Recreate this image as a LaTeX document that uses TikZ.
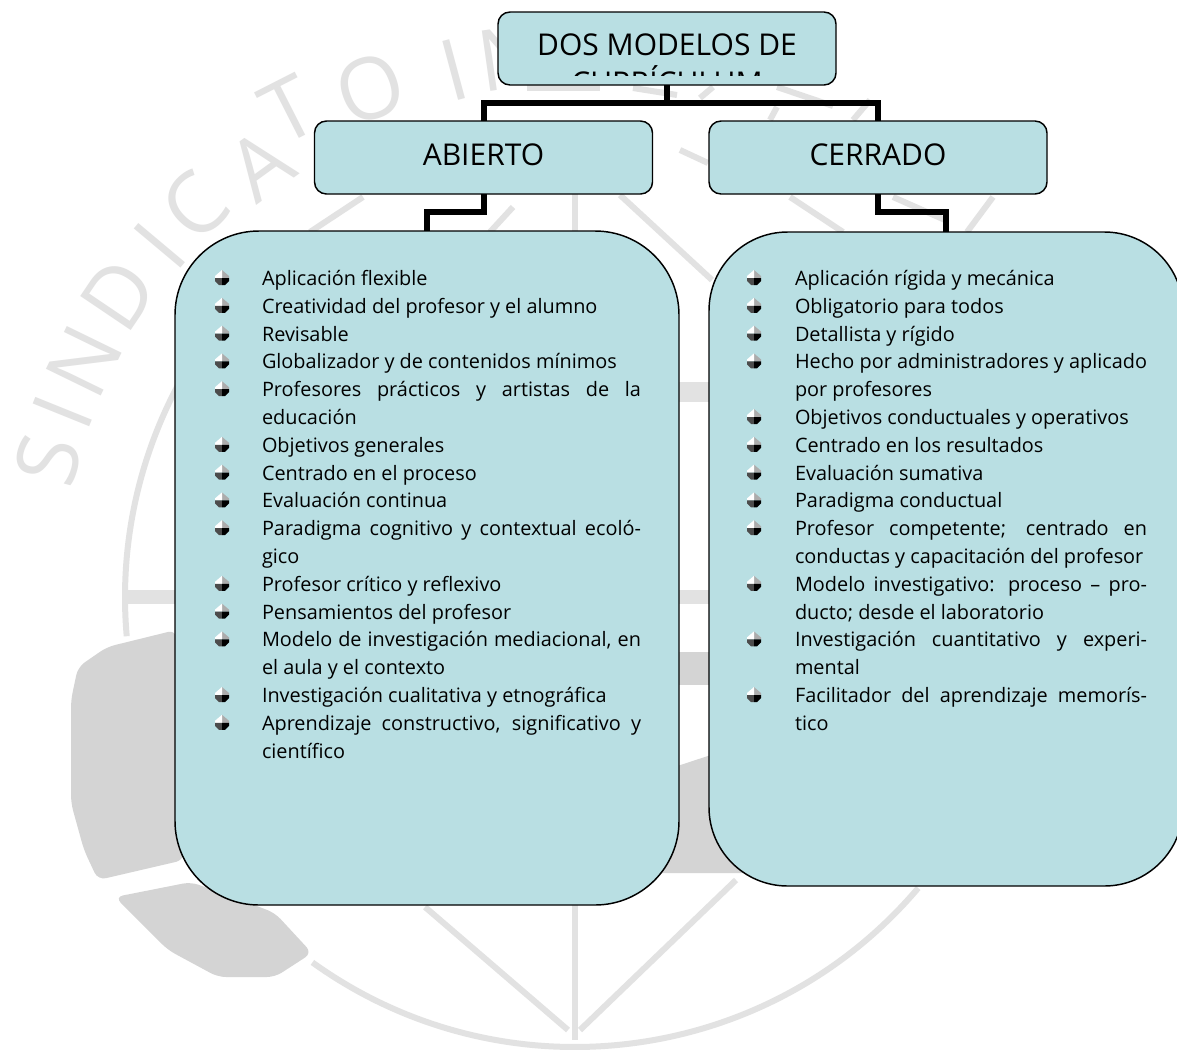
\documentclass[tikz,border=0pt]{standalone}
\usepackage{fontspec}
\setmainfont{Open Sans}
\usetikzlibrary {positioning}

\definecolor{panelblue}{RGB}{185,223,227}
\definecolor{markgray}{RGB}{212,212,212}
\definecolor{traceline}{RGB}{226,226,226}

\begin{document}
\begin{tikzpicture}[x=0.75pt,y=-0.75pt,node distance = 0mm and 0mm,
    headbox/.style={rectangle,rounded corners=9pt,minimum width=253.5pt,minimum height=54.75pt,line width=1.1pt,
      draw=black,fill=panelblue,inner sep=0pt,outer sep=0pt},
    panel/.style={rectangle,line width=1.1pt,draw=black,fill=panelblue,inner sep=0pt,outer sep=0pt},
    headtext/.style={font=\fontsize{22.5}{28.5}\selectfont,align=center,inner sep=0pt},
    entryleft/.style={text width=284.25pt,align=justify,inner sep=0pt,outer sep=0pt,font=\fontsize{14.9}{20.85}\selectfont,
      execute at begin node=\strut,execute at end node=\strut},
    entryright/.style={entryleft,text width=264pt},
    link/.style={line width=4.5pt,black,line join=miter},
    trace/.style={line width=4.5pt,traceline},
    wmletter/.style={font=\fontsize{64}{64}\selectfont,text=traceline,inner sep=0pt},
    gem/.pic={
      \fill[gray!65] (0,-8) -- (7,-2) -- (7,0) -- (0,0) -- cycle;
      \fill[white] (0,-8) -- (-7,-2) -- (-7,0) -- (0,0) -- cycle;
      \fill[black!70] (0,0) -- (-7,0) -- (-7,3) -- (-3,7) -- (0,7) -- cycle;
      \fill[black] (0,0) -- (7,0) -- (7,3) -- (3,7) -- (0,7) -- cycle;
    },
   ]

    \clip (0,0) rectangle (1177,1050);
    \fill[white] (0,0) rectangle (1177,1050);

    % watermark letters
    \node (wm1)  [wmletter,rotate=75] at (48,460)  {S};
    \node (wm2)  [wmletter,rotate=68] at (63,412)  {I};
    \node (wm3)  [wmletter,rotate=64] at (84,361)  {N};
    \node (wm4)  [wmletter,rotate=56] at (119,295) {D};
    \node (wm5)  [wmletter,rotate=50] at (160,246) {I};
    \node (wm6)  [wmletter,rotate=44] at (195,206) {C};
    \node (wm7)  [wmletter,rotate=36] at (260,165) {A};
    \node (wm8)  [wmletter,rotate=27] at (289,110) {T};
    \node (wm9)  [wmletter,rotate=20] at (370,88)  {O};
    \node (wm10) [wmletter,rotate=15] at (454,70)  {I};
    \node (wm11) [wmletter,rotate=8]  at (510,58)  {N};

    % watermark seal
    \draw[trace] ([shift={(208.5:450)}]575,597) arc[start angle=208.5,end angle=175,radius=450];
    \draw[trace] ([shift={(125.7:450)}]575,597) arc[start angle=125.7,end angle=40.3,radius=450];
    \fill[markgray,rounded corners=6pt] (176,630) -- (107,647) -- (78,667) -- (71,700) -- (71,803) -- (84,850) -- (98,880) -- (184,860) -- cycle;
    \fill[markgray,rounded corners=6pt] (115,897) -- (191,882) -- (249,903) -- (275,913) -- (312,953) -- (275,977) -- (218,977) -- (168,950) -- cycle;
    \fill[markgray] (650,775) -- (720,752) -- (745,873) -- (650,873) -- cycle;
    \fill[markgray] (650,652) rectangle (720,685);
    \fill[traceline] (650,382) rectangle (720,402);
    \fill[traceline] (650,590) rectangle (720,604);
    \fill[traceline] (122,590) rectangle (200,604);
    \draw[trace] (425,907) -- (568,1030);
    \draw[trace] (575,900) -- (575,1040);
    \draw[trace] (575,190) -- (575,235);
    \draw[trace] (736,880) -- (580,1030);
    \draw[trace] (620,195) -- (712,280);
    \draw[trace] (363,197) -- (310,232);
    \draw[trace] (513,207) -- (490,232);
    \draw[trace] (790,197) -- (843,232);
    \draw[trace] (893,197) -- (945,220);
    \draw[trace] (993,197) -- (967,232);
    \draw[trace] (680,150) -- (708,163);
    \draw[trace] (527,88) -- (600,88);
    \draw[trace] (633,88) -- (677,95);
    \draw[trace] (713,87) -- (700,98);
    \draw[trace] (777,87) -- (833,106);
    \draw[trace] (777,107) -- (770,120);
    \draw[trace] (870,100) -- (853,120);

    \node (topbox)  [headbox] at (667,48.5) {};
    \node (abierto) [headbox] at (483.5,157.5) {};
    \node (cerrado) [headbox] at (878,157.5) {};
    \node (leftpanel)  [panel,rounded corners=63pt,minimum width=378pt,minimum height=505.5pt] at (427,568) {};
    \node (rightpanel) [panel,rounded corners=59pt,minimum width=355.5pt,minimum height=490.5pt] at (946,559) {};

    \begin{scope}
      \clip (topbox.north west) rectangle ([shift={(0,-10)}]topbox.south east);
      \node (toptitle) [headtext,anchor=north] at ([shift={(0,21)}]topbox.north) {DOS MODELOS DE\\CURRÍCULUM};
    \end{scope}
    \node (abiertotitle) [headtext] at ([shift={(0,-3)}]abierto.center) {ABIERTO};
    \node (cerradotitle) [headtext] at ([shift={(0,-3)}]cerrado.center) {CERRADO};

    \draw[link] (topbox.south) -- ++(0,18) -| (abierto.north);
    \draw[link] (topbox.south) -- ++(0,18) -| (cerrado.north);
    \draw[link] (abierto.south) -- ++(0,18) -| (leftpanel.north);
    \draw[link] (cerrado.south) -- ++(0,18) -| (rightpanel.north);

    % left column
    \node (l1)  [entryleft,anchor=north west] at (262,266) {Aplicación flexible};
    \node (l2)  [entryleft,below=of l1]  {Creatividad del profesor y el alumno};
    \node (l3)  [entryleft,below=of l2]  {Revisable};
    \node (l4)  [entryleft,below=of l3]  {Globalizador y de contenidos mínimos};
    \node (l5)  [entryleft,below=of l4]  {Profesores prácticos y artistas de la\linebreak educación};
    \node (l6)  [entryleft,below=of l5]  {Objetivos generales};
    \node (l7)  [entryleft,below=of l6]  {Centrado en el proceso};
    \node (l8)  [entryleft,below=of l7]  {Evaluación continua};
    \node (l9)  [entryleft,below=of l8]  {Paradigma cognitivo y contextual ecoló-\linebreak gico};
    \node (l10) [entryleft,below=of l9]  {Profesor crítico y reflexivo};
    \node (l11) [entryleft,below=of l10] {Pensamientos del profesor};
    \node (l12) [entryleft,below=of l11] {Modelo de investigación mediacional, en\linebreak el aula y el contexto};
    \node (l13) [entryleft,below=of l12] {Investigación cualitativa y etnográfica};
    \node (l14) [entryleft,below=of l13] {Aprendizaje constructivo, significativo y\linebreak científico};

    % right column
    \node (r1)  [entryright,anchor=north west] at (795,266) {Aplicación rígida y mecánica};
    \node (r2)  [entryright,below=of r1]  {Obligatorio para todos};
    \node (r3)  [entryright,below=of r2]  {Detallista y rígido};
    \node (r4)  [entryright,below=of r3]  {Hecho por administradores y aplicado\linebreak por profesores};
    \node (r5)  [entryright,below=of r4]  {Objetivos conductuales y operativos};
    \node (r6)  [entryright,below=of r5]  {Centrado en los resultados};
    \node (r7)  [entryright,below=of r6]  {Evaluación sumativa};
    \node (r8)  [entryright,below=of r7]  {Paradigma conductual};
    \node (r9)  [entryright,below=of r8]  {Profesor competente; centrado en\linebreak conductas y capacitación del profesor};
    \node (r10) [entryright,below=of r9]  {Modelo investigativo: proceso – pro-\linebreak ducto; desde el laboratorio};
    \node (r11) [entryright,below=of r10] {Investigación cuantitativo y experi-\linebreak mental};
    \node (r12) [entryright,below=of r11] {Facilitador del aprendizaje memorís-\linebreak tico};

    \foreach \n in {1,...,14} \pic at ([shift={(-40,12)}]l\n.north west) {gem};
    \foreach \n in {1,...,12} \pic at ([shift={(-41,12)}]r\n.north west) {gem};
  \end{tikzpicture}
\end{document}
